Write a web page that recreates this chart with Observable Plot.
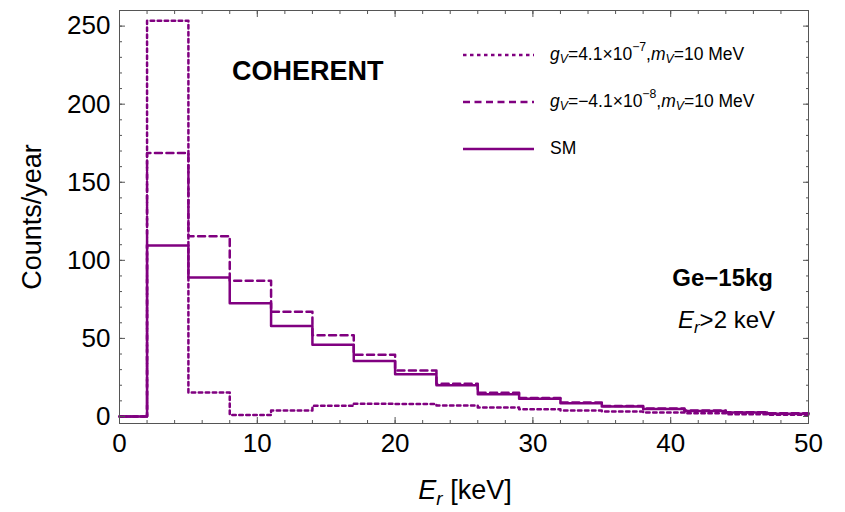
<!DOCTYPE html>
<html><head><meta charset="utf-8">
<script src="https://cdn.jsdelivr.net/npm/d3@7"></script>
<script src="https://cdn.jsdelivr.net/npm/@observablehq/plot@0.6"></script>
<style>body{margin:0;background:#fff} #chart{width:845px;height:512px}</style>
</head><body><div id="chart"></div>
<script>
// ---- data ----
const binEdges = [0,2,5,8,11,14,17,20,23,26,29,32,35,38,41,44,47,50];
const smCounts  = [0,109.5,89,72.5,58,46,35.5,27,20,14.3,11.3,8.5,6.4,4.8,3.5,2.5,1.8];
const negCounts = [0,168.8,115.4,87,67,52,39.5,29.5,21,15.2,11.8,8.9,6.7,5.1,3.8,2.7,2.1];
const posCounts = [0,253.5,15.3,0.9,3.8,6.8,8.2,8.0,7.0,5.8,4.7,3.8,3.2,2.6,2.1,1.5,1.1];
const xTicks = [0,10,20,30,40,50];
const yTicks = [0,50,100,150,200,250];
const xMinorTicks = d3.range(0, 51, 2);
const yMinorTicks = d3.range(0, 251, 10);

const purple = "#800080";
const font = "'Liberation Sans', Arial, Helvetica, sans-serif";

function steps(vals) {
  const pts = vals.map((v, i) => ({x: binEdges[i], y: v}));
  pts.push({x: binEdges[binEdges.length - 1], y: vals[vals.length - 1]});
  return pts;
}
const blank = () => "";

const plot = Plot.plot({
  width: 845, height: 512,
  marginLeft: 119, marginRight: 37, marginTop: 10, marginBottom: 89,
  style: {fontFamily: font, background: "#fff", overflow: "visible"},
  x: {domain: [0, 50]},
  y: {domain: [-4.5, 260]},
  marks: [
    Plot.line(steps(posCounts), {x: "x", y: "y", curve: "step-after", stroke: purple, strokeWidth: 2.5, strokeDasharray: "3.5,3.5"}),
    Plot.line(steps(negCounts), {x: "x", y: "y", curve: "step-after", stroke: purple, strokeWidth: 2.5, strokeDasharray: "7,4.5"}),
    Plot.line(steps(smCounts), {x: "x", y: "y", curve: "step-after", stroke: purple, strokeWidth: 2.5}),
    Plot.frame({stroke: "#555", strokeWidth: 1}),
    Plot.axisX(xMinorTicks, {anchor: "bottom", tickSize: -3, tickFormat: blank, label: null, stroke: "#555"}),
    Plot.axisX(xTicks, {anchor: "bottom", tickSize: -6, tickFormat: blank, label: null, stroke: "#555"}),
    Plot.axisX(xMinorTicks, {anchor: "top", tickSize: -3, tickFormat: blank, label: null, stroke: "#555"}),
    Plot.axisX(xTicks, {anchor: "top", tickSize: -6, tickFormat: blank, label: null, stroke: "#555"}),
    Plot.axisY(yMinorTicks, {anchor: "left", tickSize: -3, tickFormat: blank, label: null, stroke: "#555"}),
    Plot.axisY(yTicks, {anchor: "left", tickSize: -6, tickFormat: blank, label: null, stroke: "#555"}),
    Plot.axisY(yMinorTicks, {anchor: "right", tickSize: -3, tickFormat: blank, label: null, stroke: "#555"}),
    Plot.axisY(yTicks, {anchor: "right", tickSize: -6, tickFormat: blank, label: null, stroke: "#555"}),
    Plot.axisX(xTicks, {anchor: "bottom", tickSize: 0, tickPadding: 10, fontSize: 26, label: null, fill: "#000"}),
    Plot.axisY(yTicks, {anchor: "left", tickSize: 0, tickPadding: 9, fontSize: 26, label: null, fill: "#000"})
  ]
});
document.getElementById("chart").appendChild(plot);

// ---- rich-text annotations ----
const svg = d3.select(plot);
const g = svg.append("g").attr("font-family", font).attr("fill", "#000");

function rich(x, y, parts, opts = {}) {
  const size = opts.size || 14;
  const t = g.append("text").attr("x", x).attr("y", y)
    .attr("font-size", size)
    .attr("text-anchor", opts.anchor || "start")
    .attr("dominant-baseline", "middle")
    .attr("font-weight", opts.bold ? "bold" : "normal");
  if (opts.rotate) t.attr("transform", `rotate(${opts.rotate},${x},${y})`);
  let shift = 0;
  for (const p of parts) {
    const target = p.sub ? size * 0.28 : p.sup ? -size * 0.42 : 0;
    const s = t.append("tspan").text(p.t)
      .attr("dy", target - shift)
      .attr("font-size", (p.sub || p.sup) ? size * 0.7 : size);
    if (p.i) s.attr("font-style", "italic");
    shift = target;
  }
  return t;
}

rich(232, 73, [{t: "COHERENT"}], {size: 27, bold: true});
rich(773, 280, [{t: "Ge\u221215kg"}], {size: 24, bold: true, anchor: "end"});
rich(775, 322, [{t: "E", i: true}, {t: "r", i: true, sub: true}, {t: ">2 keV"}], {size: 24, anchor: "end"});
rich(34, 217, [{t: "Counts/year"}], {size: 27, anchor: "middle", rotate: -90});
rich(465, 492, [{t: "E", i: true}, {t: "r", i: true, sub: true}, {t: " [keV]"}], {size: 27, anchor: "middle"});

// legend
const legendRows = [
  {dash: "3.5,3.5", parts: [{t: "g", i: true}, {t: "V", i: true, sub: true}, {t: "=4.1\u00d710"}, {t: "\u22127", sup: true}, {t: ","}, {t: "m", i: true}, {t: "V", i: true, sub: true}, {t: "=10 MeV"}]},
  {dash: "7,4.5", parts: [{t: "g", i: true}, {t: "V", i: true, sub: true}, {t: "=\u22124.1\u00d710"}, {t: "\u22128", sup: true}, {t: ","}, {t: "m", i: true}, {t: "V", i: true, sub: true}, {t: "=10 MeV"}]},
  {dash: null, parts: [{t: "SM"}]}
];
const rowY = [55, 102, 149];
legendRows.forEach((r, k) => {
  const l = g.append("line").attr("x1", 463).attr("x2", 534).attr("y1", rowY[k]).attr("y2", rowY[k])
    .attr("stroke", purple).attr("stroke-width", 2.5);
  if (r.dash) l.attr("stroke-dasharray", r.dash);
  rich(550, rowY[k], r.parts, {size: 17.5});
});
</script></body></html>
